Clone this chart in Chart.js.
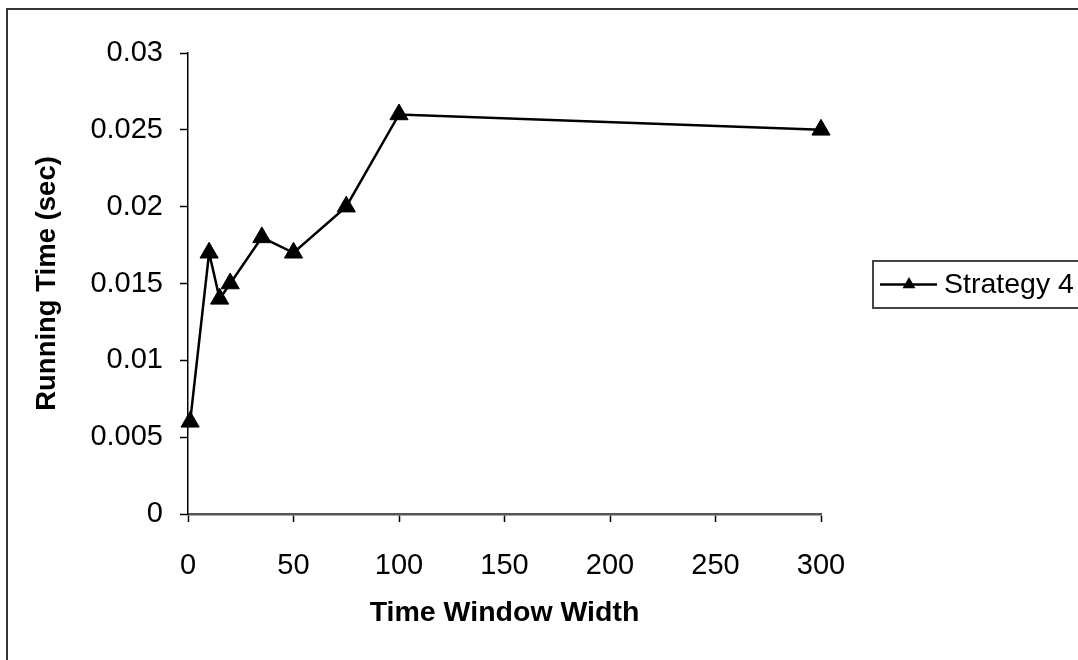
<!DOCTYPE html>
<html>
<head>
<meta charset="utf-8">
<title>Running Time vs Time Window Width</title>
<script src="https://cdn.jsdelivr.net/npm/chart.js@4/dist/chart.umd.min.js"></script>
<style>
  html, body { margin: 0; padding: 0; background: #fff; }
  #wrap { width: 1078px; height: 660px; position: relative; overflow: hidden; }
</style>
</head>
<body>
<div id="wrap"><canvas id="chart" width="1078" height="660"></canvas></div>
<script>
// Measured running time for each time window width
const windowWidths   = [1, 10, 15, 20, 35, 50, 75, 100, 300];
const strategy4Times = [0.006, 0.017, 0.014, 0.015, 0.018, 0.017, 0.020, 0.026, 0.025];
const seriesName = 'Strategy 4';

// Axis ticks
const xTickValues = [0, 50, 100, 150, 200, 250, 300];
const yTickValues = [0, 0.005, 0.01, 0.015, 0.02, 0.025, 0.03];

const FONT = '"Liberation Sans", Arial, Helvetica, sans-serif';

// Outer frame around the whole chart
const framePlugin = {
  id: 'frame',
  beforeDraw(chart) {
    const ctx = chart.ctx;
    ctx.save();
    ctx.fillStyle = '#fff';
    ctx.fillRect(0, 0, chart.width, chart.height);
    ctx.strokeStyle = '#333';
    ctx.lineWidth = 2;
    ctx.strokeRect(7, 9, chart.width + 20, chart.height + 20);
    ctx.restore();
  }
};

// Boxed legend on the right, drawn from the dataset's own style
const boxLegendPlugin = {
  id: 'boxLegend',
  afterDraw(chart) {
    const ctx = chart.ctx;
    const ds = chart.data.datasets[0];
    const top = 261, bottom = 308, left = 873;
    const cy = (top + bottom) / 2;
    ctx.save();
    ctx.fillStyle = '#fff';
    ctx.fillRect(left, top, chart.width, bottom - top);
    ctx.strokeStyle = '#444';
    ctx.lineWidth = 2;
    ctx.strokeRect(left, top, chart.width, bottom - top);

    ctx.strokeStyle = ds.borderColor;
    ctx.lineWidth = ds.borderWidth;
    ctx.beginPath();
    ctx.moveTo(880, cy);
    ctx.lineTo(937, cy);
    ctx.stroke();

    // small triangle marker
    const r = 7.5, mx = 909;
    ctx.fillStyle = ds.pointBackgroundColor;
    ctx.beginPath();
    for (let i = 0; i < 3; i++) {
      const a = i * 2 * Math.PI / 3;
      const px = mx + Math.sin(a) * r;
      const py = cy - Math.cos(a) * r;
      if (i === 0) ctx.moveTo(px, py); else ctx.lineTo(px, py);
    }
    ctx.closePath();
    ctx.fill();

    ctx.fillStyle = '#000';
    ctx.font = '28.5px ' + FONT;
    ctx.textAlign = 'left';
    ctx.textBaseline = 'middle';
    ctx.fillText(ds.label, 944, cy + 1);
    ctx.restore();
  }
};

new Chart(document.getElementById('chart'), {
  type: 'line',
  data: {
    datasets: [{
      label: seriesName,
      data: windowWidths.map((w, i) => ({ x: w, y: strategy4Times[i] })),
      borderColor: '#000',
      borderWidth: 2.5,
      pointStyle: 'triangle',
      pointRadius: 10.5,
      pointHoverRadius: 10.5,
      pointBackgroundColor: '#000',
      pointBorderColor: '#000',
      pointBorderWidth: 1,
      tension: 0,
      clip: false
    }]
  },
  options: {
    responsive: false,
    animation: false,
    events: [],
    layout: { padding: { left: 0, top: 53, right: 257, bottom: 0 } },
    plugins: {
      legend: { display: false },
      tooltip: { enabled: false },
      title: { display: false }
    },
    scales: {
      x: {
        type: 'linear',
        min: 0,
        max: 300,
        afterBuildTicks(scale) { scale.ticks = xTickValues.map(v => ({ value: v })); },
        afterFit(scale) { scale.height = 146; },
        border: { display: true, color: '#555', width: 2.5 },
        grid: { display: true, drawOnChartArea: false, drawTicks: true, tickLength: 8, tickColor: '#000', tickWidth: 1.5 },
        ticks: {
          color: '#000',
          font: { family: FONT, size: 29 },
          padding: 27,
          maxRotation: 0,
          callback: v => String(v)
        },
        title: {
          display: true,
          text: 'Time Window Width',
          color: '#000',
          font: { family: FONT, size: 28.5, weight: 'bold' },
          padding: { top: 0, bottom: 30 }
        }
      },
      y: {
        type: 'linear',
        min: 0,
        max: 0.03,
        afterBuildTicks(scale) { scale.ticks = yTickValues.map(v => ({ value: v })); },
        afterFit(scale) { scale.width = 188; },
        border: { display: true, color: '#000', width: 1.5 },
        grid: { display: true, drawOnChartArea: false, drawTicks: true, tickLength: 8, tickColor: '#000', tickWidth: 1.5 },
        ticks: {
          color: '#000',
          font: { family: FONT, size: 29 },
          padding: 17,
          callback: v => String(+v.toFixed(3))
        },
        title: {
          display: true,
          text: 'Running Time (sec)',
          color: '#000',
          font: { family: FONT, size: 27.5, weight: 'bold' },
          padding: { top: 31, bottom: 0 }
        }
      }
    }
  },
  plugins: [framePlugin, boxLegendPlugin]
});
</script>
</body>
</html>
